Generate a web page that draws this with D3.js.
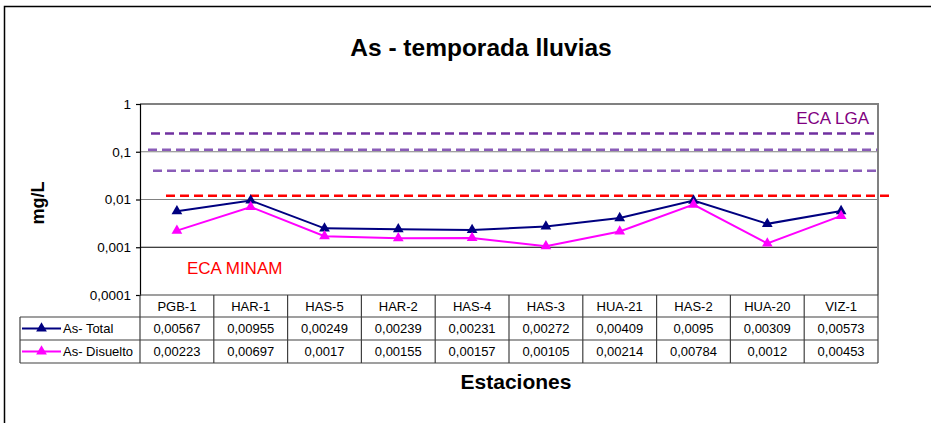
<!DOCTYPE html>
<html><head><meta charset="utf-8">
<script src="https://cdn.jsdelivr.net/npm/d3@7"></script>
<style>
html,body{margin:0;padding:0;background:#fff;}
svg{display:block;font-family:"Liberation Sans",Arial,sans-serif;}
</style></head>
<body><svg id="chart" width="931" height="423"></svg>
<script>
const categories = ["PGB-1","HAR-1","HAS-5","HAR-2","HAS-4","HAS-3","HUA-21","HAS-2","HUA-20","VIZ-1"];
const asTotal = [0.00567,0.00955,0.00249,0.00239,0.00231,0.00272,0.00409,0.0095,0.00309,0.00573];
const asDisuelto = [0.00223,0.00697,0.0017,0.00155,0.00157,0.00105,0.00214,0.00784,0.0012,0.00453];
const totalLabels = ["0,00567","0,00955","0,00249","0,00239","0,00231","0,00272","0,00409","0,0095","0,00309","0,00573"];
const disueltoLabels = ["0,00223","0,00697","0,0017","0,00155","0,00157","0,00105","0,00214","0,00784","0,0012","0,00453"];
const seriesNames = ["As- Total","As- Disuelto"];
const yTickValues = [1,0.1,0.01,0.001,0.0001];
const yTickLabels = ["1","0,1","0,01","0,001","0,0001"];
const ecaLgaValues = [0.24,0.11,0.04];
const ecaMinamValue = 0.012;

const svg = d3.select("#chart");
const pLeft = 140, pRight = 878, pTop = 104, pBottom = 295;
const x = d3.scaleBand().domain(categories).range([pLeft,pRight]);
const y = d3.scaleLog().domain([0.0001,1]).range([pBottom,pTop]);

// outer frame
svg.append("rect").attr("x",4.5).attr("y",6.5).attr("width",1000).attr("height",1000)
  .attr("fill","none").attr("stroke","#000").attr("stroke-width",1.5);

// title
svg.append("text").attr("x",481).attr("y",56).attr("text-anchor","middle")
  .attr("font-size",24.5).attr("font-weight","bold").text("As - temporada lluvias");

// gridlines
const gridColors = ["#808080","#808080","#000"];
[0.1,0.01,0.001].forEach((v,i)=>{
  svg.append("line").attr("x1",pLeft).attr("x2",pRight).attr("y1",y(v)).attr("y2",y(v))
    .attr("stroke",gridColors[i]).attr("stroke-width",1.2);
});
// plot border top/right
svg.append("path").attr("d",`M${pLeft},${pTop}H${pRight}V${pBottom}`).attr("fill","none")
  .attr("stroke","#808080").attr("stroke-width",2);

// y axis
const yAxis = d3.axisLeft(y).tickValues(yTickValues).tickSize(4).tickPadding(5)
  .tickFormat((d,i)=>yTickLabels[i]);
const ga = svg.append("g").attr("transform",`translate(${pLeft},0)`).call(yAxis);
ga.select(".domain").attr("stroke","#000").attr("stroke-width",1.2);
ga.selectAll(".tick line").attr("stroke","#000").attr("stroke-width",1.2);
ga.selectAll(".tick text").attr("font-size",13.5).attr("fill","#000")
  .attr("font-family","Liberation Sans, Arial, sans-serif");

// y label
svg.append("text").attr("transform","translate(44,203) rotate(-90)").attr("text-anchor","middle")
  .attr("font-size",18).attr("font-weight","bold").text("mg/L");

// reference lines
const lgaColors = ["#7030A0","#8A5CB8","#8A5CB8"];
const lgaStarts = [151,148,153];
ecaLgaValues.forEach((v,i)=>{
  svg.append("line").attr("x1",lgaStarts[i]).attr("x2",pRight-1).attr("y1",y(v)).attr("y2",y(v))
    .attr("stroke",lgaColors[i]).attr("stroke-width",2.5).attr("stroke-dasharray","9,5");
});
svg.append("line").attr("x1",166).attr("x2",892).attr("y1",y(ecaMinamValue)).attr("y2",y(ecaMinamValue))
  .attr("stroke","#FF0000").attr("stroke-width",2.5).attr("stroke-dasharray","9,5");

svg.append("text").attr("x",869).attr("y",123.5).attr("text-anchor","end").attr("font-size",17)
  .attr("fill","#800080").text("ECA LGA");
svg.append("text").attr("x",187).attr("y",273.5).attr("font-size",17)
  .attr("fill","#FF0000").text("ECA MINAM");

// series
const cx = d=>x(d)+x.bandwidth()/2;
const tri = d3.symbol().type(d3.symbolTriangle).size(50);
const series = [{vals:asTotal,color:"#000080"},{vals:asDisuelto,color:"#FF00FF"}];
series.forEach(s=>{
  const line = d3.line().x((d,i)=>cx(categories[i])).y(d=>y(d));
  svg.append("path").datum(s.vals).attr("d",line).attr("fill","none")
    .attr("stroke",s.color).attr("stroke-width",2);
  svg.selectAll(null).data(s.vals).enter().append("path").attr("d",tri)
    .attr("transform",(d,i)=>`translate(${cx(categories[i])},${y(d)})`).attr("fill",s.color);
});

// data table
const rowTops = [295,317,340,363];
const tableLeft = 20;
const tg = svg.append("g").attr("stroke","#404040").attr("stroke-width",1.2);
tg.append("line").attr("x1",pLeft).attr("x2",pRight).attr("y1",rowTops[0]).attr("y2",rowTops[0]);
[1,2,3].forEach(r=>tg.append("line").attr("x1",tableLeft).attr("x2",pRight).attr("y1",rowTops[r]).attr("y2",rowTops[r]));
tg.append("line").attr("x1",tableLeft).attr("x2",tableLeft).attr("y1",rowTops[1]).attr("y2",rowTops[3]);
categories.forEach(c=>tg.append("line").attr("x1",x(c)).attr("x2",x(c)).attr("y1",rowTops[0]).attr("y2",rowTops[3]));
tg.append("line").attr("x1",pRight).attr("x2",pRight).attr("y1",rowTops[0]).attr("y2",rowTops[3]);

const rowsText = [categories,totalLabels,disueltoLabels];
rowsText.forEach((arr,r)=>{
  svg.selectAll(null).data(arr).enter().append("text")
    .attr("x",(d,i)=>cx(categories[i])).attr("y",(rowTops[r]+rowTops[r+1])/2+4.5)
    .attr("text-anchor","middle").attr("font-size",13).text(d=>d);
});
series.forEach((s,i)=>{
  const yy = (rowTops[i+1]+rowTops[i+2])/2;
  svg.append("line").attr("x1",22).attr("x2",61).attr("y1",yy).attr("y2",yy)
    .attr("stroke",s.color).attr("stroke-width",2);
  svg.append("path").attr("d",tri).attr("transform",`translate(41.5,${yy})`).attr("fill",s.color);
  svg.append("text").attr("x",63).attr("y",yy+4.5).attr("font-size",13).text(seriesNames[i]);
});

// x label
svg.append("text").attr("x",516).attr("y",388.5).attr("text-anchor","middle")
  .attr("font-size",21).attr("font-weight","bold").text("Estaciones");
</script></body></html>
